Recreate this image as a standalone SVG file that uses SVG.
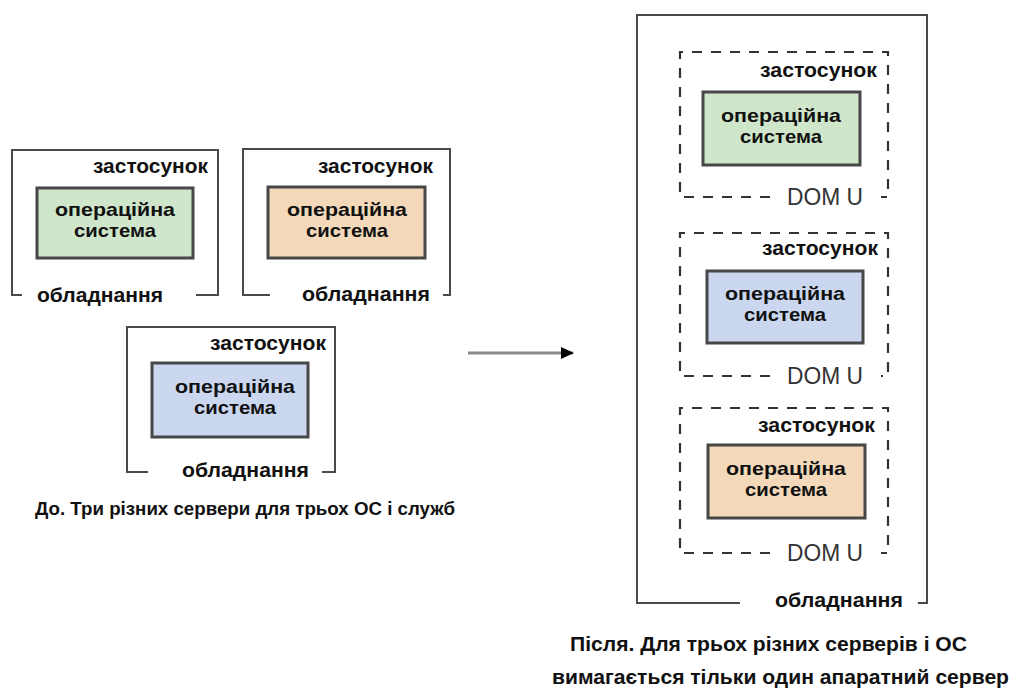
<svg xmlns="http://www.w3.org/2000/svg" width="1012" height="691" viewBox="0 0 1012 691">
  <style>
    .frame { fill: none; stroke: #4a4a4a; stroke-width: 2; }
    .dash { fill: none; stroke: #333; stroke-width: 2.2; stroke-dasharray: 10 9; }
    .os { stroke: #474747; stroke-width: 3; }
    .green { fill: #cfe6ca; }
    .peach { fill: #f3d9ba; }
    .blue { fill: #cbd7ee; }
    .lbl { font-family: "Liberation Sans", Arial, sans-serif; font-weight: bold; font-size: 21px; fill: #111; }
    .ost { font-family: "Liberation Sans", Arial, sans-serif; font-weight: bold; font-size: 19px; fill: #111; text-anchor: middle; }
    .dom { font-family: "Liberation Sans", Arial, sans-serif; font-size: 23px; fill: #333; }
    .cap { font-family: "Liberation Sans", Arial, sans-serif; font-weight: bold; font-size: 18px; fill: #111; }
    .cap2 { font-family: "Liberation Sans", Arial, sans-serif; font-weight: bold; font-size: 20px; fill: #111; }
  </style>
  <defs>
    <marker id="arr" markerWidth="13" markerHeight="12" refX="12" refY="6" orient="auto" markerUnits="userSpaceOnUse">
      <path d="M0,0 L13,6 L0,12 Z" fill="#000"/>
    </marker>
  </defs>

  <!-- Before: server 1 -->
  <g id="server1">
    <path class="frame" d="M22 295 H12 V150 H218 V295 H196"/>
    <text class="lbl" x="93" y="173" textLength="115" lengthAdjust="spacingAndGlyphs">застосунок</text>
    <rect class="os green" x="37" y="188" width="156" height="70"/>
    <text class="ost" x="115" y="216" textLength="120" lengthAdjust="spacingAndGlyphs">операційна</text>
    <text class="ost" x="115" y="237" textLength="82" lengthAdjust="spacingAndGlyphs">система</text>
    <text class="lbl" x="37" y="302" textLength="126" lengthAdjust="spacingAndGlyphs">обладнання</text>
  </g>

  <!-- Before: server 2 -->
  <g id="server2">
    <path class="frame" d="M270 295 H243 V149 H450 V295 H443"/>
    <text class="lbl" x="318" y="173" textLength="115" lengthAdjust="spacingAndGlyphs">застосунок</text>
    <rect class="os peach" x="268" y="187" width="157" height="71"/>
    <text class="ost" x="347" y="216" textLength="120" lengthAdjust="spacingAndGlyphs">операційна</text>
    <text class="ost" x="347" y="237" textLength="82" lengthAdjust="spacingAndGlyphs">система</text>
    <text class="lbl" x="302" y="301" textLength="128" lengthAdjust="spacingAndGlyphs">обладнання</text>
  </g>

  <!-- Before: server 3 -->
  <g id="server3">
    <path class="frame" d="M148 472 H127 V327 H335 V472 H322"/>
    <text class="lbl" x="210" y="350" textLength="116" lengthAdjust="spacingAndGlyphs">застосунок</text>
    <rect class="os blue" x="152" y="363" width="156" height="74"/>
    <text class="ost" x="235" y="393" textLength="120" lengthAdjust="spacingAndGlyphs">операційна</text>
    <text class="ost" x="235" y="414" textLength="82" lengthAdjust="spacingAndGlyphs">система</text>
    <text class="lbl" x="182" y="477" textLength="127" lengthAdjust="spacingAndGlyphs">обладнання</text>
  </g>

  <text class="cap" x="35" y="515" textLength="420" lengthAdjust="spacingAndGlyphs">До. Три різних сервери для трьох ОС і служб</text>

  <!-- After: single hardware server -->
  <g id="hardware">
    <path class="frame" d="M740 603 H637 V15 H927 V603 H918"/>
    <text class="lbl" x="775" y="607" textLength="128" lengthAdjust="spacingAndGlyphs">обладнання</text>
  </g>

  <g id="domu1">
    <path class="dash" d="M770 197 H680 V52 H888 V197 H881"/>
    <text class="lbl" x="760" y="77" textLength="117" lengthAdjust="spacingAndGlyphs">застосунок</text>
    <rect class="os green" x="703" y="92" width="157" height="73"/>
    <text class="ost" x="781" y="122" textLength="120" lengthAdjust="spacingAndGlyphs">операційна</text>
    <text class="ost" x="781" y="143" textLength="82" lengthAdjust="spacingAndGlyphs">система</text>
    <text class="dom" x="787" y="205" textLength="76" lengthAdjust="spacingAndGlyphs">DOM U</text>
  </g>

  <g id="domu2">
    <path class="dash" d="M770 376 H680 V233 H888 V376 H881"/>
    <text class="lbl" x="762" y="255" textLength="116" lengthAdjust="spacingAndGlyphs">застосунок</text>
    <rect class="os blue" x="707" y="271" width="156" height="72"/>
    <text class="ost" x="785" y="300" textLength="120" lengthAdjust="spacingAndGlyphs">операційна</text>
    <text class="ost" x="785" y="321" textLength="82" lengthAdjust="spacingAndGlyphs">система</text>
    <text class="dom" x="787" y="384" textLength="76" lengthAdjust="spacingAndGlyphs">DOM U</text>
  </g>

  <g id="domu3">
    <path class="dash" d="M770 553 H680 V408 H888 V553 H881"/>
    <text class="lbl" x="758" y="432" textLength="117" lengthAdjust="spacingAndGlyphs">застосунок</text>
    <rect class="os peach" x="708" y="445" width="157" height="73"/>
    <text class="ost" x="786" y="475" textLength="120" lengthAdjust="spacingAndGlyphs">операційна</text>
    <text class="ost" x="786" y="496" textLength="82" lengthAdjust="spacingAndGlyphs">система</text>
    <text class="dom" x="787" y="561" textLength="76" lengthAdjust="spacingAndGlyphs">DOM U</text>
  </g>

  <text class="cap2" x="570" y="651" textLength="397" lengthAdjust="spacingAndGlyphs">Після. Для трьох різних серверів і ОС</text>
  <text class="cap2" x="552" y="684" textLength="457" lengthAdjust="spacingAndGlyphs">вимагається тільки один апаратний сервер</text>

  <g id="connectors">
    <line x1="468" y1="353" x2="573" y2="353" stroke="#8a8a8a" stroke-width="3" marker-end="url(#arr)"/>
  </g>
</svg>
